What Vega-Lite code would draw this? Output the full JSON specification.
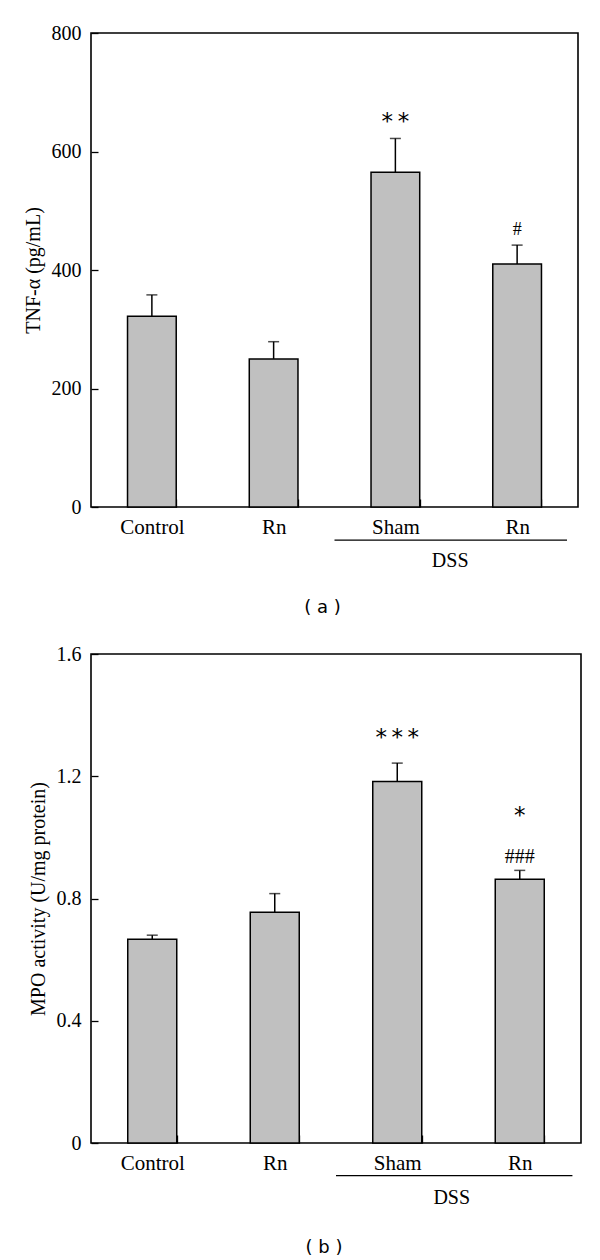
{
  "$schema": "https://vega.github.io/schema/vega-lite/v6.json",
  "background": "white",
  "padding": {"left": 22, "top": 22, "right": 5, "bottom": 5},
  "spacing": 25,
  "config": {
    "view": {"stroke": "black", "strokeWidth": 1.6},
    "font": "Liberation Serif",
    "axis": {
      "labelFont": "Liberation Serif",
      "titleFont": "Liberation Serif",
      "labelColor": "black",
      "titleColor": "black",
      "tickColor": "black",
      "domain": false,
      "grid": false,
      "titleFontWeight": "normal",
      "labelFontSize": 20,
      "titleFontSize": 20,
      "tickWidth": 1.3
    },
    "title": {"font": "DejaVu Sans", "fontSize": 18, "fontWeight": "normal", "color": "black"}
  },
  "datasets": {
    "tnf": [
      {"grp": "Control", "value": 322, "upper": 358},
      {"grp": "Rn", "value": 250, "upper": 279},
      {"grp": "Sham", "value": 565, "upper": 622},
      {"grp": "Rn2", "value": 410, "upper": 442}
    ],
    "tnfAnn": [
      {"grp": "Sham", "label": "*\u2009*", "pos": 650, "kind": "star"},
      {"grp": "Rn2", "label": "#", "pos": 467, "kind": "hash"}
    ],
    "tnfDss": [
      {"start": 2, "end": 3.91, "pos": -56, "tpos": 2.95, "tlab": -91, "label": "DSS"}
    ],
    "mpo": [
      {"grp": "Control", "value": 0.667, "upper": 0.68},
      {"grp": "Rn", "value": 0.755, "upper": 0.816},
      {"grp": "Sham", "value": 1.183, "upper": 1.243},
      {"grp": "Rn2", "value": 0.863, "upper": 0.892}
    ],
    "mpoAnn": [
      {"grp": "Sham", "label": "*\u2009*\u2009*", "pos": 1.324, "kind": "star"},
      {"grp": "Rn2", "label": "*", "pos": 1.07, "kind": "star"},
      {"grp": "Rn2", "label": "###", "pos": 0.937, "kind": "hash"}
    ],
    "mpoDss": [
      {"start": 2, "end": 3.93, "pos": -0.107, "tpos": 2.945, "tlab": -0.18, "label": "DSS"}
    ]
  },
  "vconcat": [
    {
      "width": 487,
      "height": 474,
      "title": {"text": "( a )", "orient": "bottom", "offset": 28, "dx": -12},
      "layer": [
        {
          "encoding": {
            "x": {
              "field": "grp", "type": "nominal", "sort": null,
              "scale": {"paddingInner": 0.6, "paddingOuter": 0.3},
              "axis": {"title": null, "labelAngle": 0, "tickBand": "extent", "tickSize": -8, "labelPadding": 17, "labelFontSize": 21, "labelExpr": "datum.value == 'Rn2' ? 'Rn' : datum.value"}
            }
          },
          "layer": [
            {
              "data": {"name": "tnf"},
              "mark": {"type": "bar", "fill": "#c0c0c0", "stroke": "black", "strokeWidth": 1.5},
              "encoding": {
                "y": {"field": "value", "type": "quantitative", "scale": {"domain": [0, 800], "nice": false},
                  "axis": {"title": "TNF-α (pg/mL)", "values": [0, 200, 400, 600, 800], "tickSize": -7, "labelPadding": 17, "titlePadding": 8}}
              }
            },
            {
              "data": {"name": "tnf"},
              "mark": {"type": "rule", "color": "black", "strokeWidth": 1.5},
              "encoding": {"y": {"field": "value", "type": "quantitative"}, "y2": {"field": "upper"}}
            },
            {
              "data": {"name": "tnf"},
              "mark": {"type": "tick", "orient": "horizontal", "size": 11, "thickness": 1.5, "color": "black"},
              "encoding": {"y": {"field": "upper", "type": "quantitative"}}
            },
            {
              "data": {"name": "tnfAnn"},
              "transform": [{"filter": "datum.kind == 'star'"}],
              "mark": {"type": "text", "font": "DejaVu Sans", "fontSize": 23, "baseline": "middle", "color": "black"},
              "encoding": {"y": {"field": "pos", "type": "quantitative"}, "text": {"field": "label"}}
            },
            {
              "data": {"name": "tnfAnn"},
              "transform": [{"filter": "datum.kind == 'hash'"}],
              "mark": {"type": "text", "font": "Liberation Serif", "fontSize": 18, "baseline": "middle", "color": "black"},
              "encoding": {"y": {"field": "pos", "type": "quantitative"}, "text": {"field": "label"}}
            }
          ]
        },
        {
          "data": {"name": "tnfDss"},
          "layer": [
            {
              "mark": {"type": "rule", "color": "black", "strokeWidth": 1.3},
              "encoding": {
                "x": {"field": "start", "type": "quantitative", "scale": {"domain": [0, 4], "nice": false}, "axis": null},
                "x2": {"field": "end"},
                "y": {"field": "pos", "type": "quantitative"}
              }
            },
            {
              "mark": {"type": "text", "font": "Liberation Serif", "fontSize": 20, "baseline": "middle", "color": "black"},
              "encoding": {
                "x": {"field": "tpos", "type": "quantitative"},
                "y": {"field": "tlab", "type": "quantitative"},
                "text": {"field": "label"}
              }
            }
          ]
        }
      ],
      "resolve": {"scale": {"x": "independent"}}
    },
    {
      "width": 490,
      "height": 489,
      "title": {"text": "( b )", "orient": "bottom", "offset": 31, "dx": -12},
      "layer": [
        {
          "encoding": {
            "x": {
              "field": "grp", "type": "nominal", "sort": null,
              "scale": {"paddingInner": 0.6, "paddingOuter": 0.3},
              "axis": {"title": null, "labelAngle": 0, "tickBand": "extent", "tickSize": -8, "labelPadding": 17, "labelFontSize": 21, "labelExpr": "datum.value == 'Rn2' ? 'Rn' : datum.value"}
            }
          },
          "layer": [
            {
              "data": {"name": "mpo"},
              "mark": {"type": "bar", "fill": "#c0c0c0", "stroke": "black", "strokeWidth": 1.5},
              "encoding": {
                "y": {"field": "value", "type": "quantitative", "scale": {"domain": [0, 1.6], "nice": false},
                  "axis": {"title": "MPO activity (U/mg protein)", "values": [0, 0.4, 0.8, 1.2, 1.6], "labelExpr": "datum.value == 0 ? '0' : format(datum.value, '.1f')", "tickSize": -7, "labelPadding": 17, "titlePadding": 8}}
              }
            },
            {
              "data": {"name": "mpo"},
              "mark": {"type": "rule", "color": "black", "strokeWidth": 1.5},
              "encoding": {"y": {"field": "value", "type": "quantitative"}, "y2": {"field": "upper"}}
            },
            {
              "data": {"name": "mpo"},
              "mark": {"type": "tick", "orient": "horizontal", "size": 11, "thickness": 1.5, "color": "black"},
              "encoding": {"y": {"field": "upper", "type": "quantitative"}}
            },
            {
              "data": {"name": "mpoAnn"},
              "transform": [{"filter": "datum.kind == 'star'"}],
              "mark": {"type": "text", "font": "DejaVu Sans", "fontSize": 23, "baseline": "middle", "color": "black"},
              "encoding": {"y": {"field": "pos", "type": "quantitative"}, "text": {"field": "label"}}
            },
            {
              "data": {"name": "mpoAnn"},
              "transform": [{"filter": "datum.kind == 'hash'"}],
              "mark": {"type": "text", "font": "Liberation Serif", "fontSize": 20, "baseline": "middle", "color": "black"},
              "encoding": {"y": {"field": "pos", "type": "quantitative"}, "text": {"field": "label"}}
            }
          ]
        },
        {
          "data": {"name": "mpoDss"},
          "layer": [
            {
              "mark": {"type": "rule", "color": "black", "strokeWidth": 1.3},
              "encoding": {
                "x": {"field": "start", "type": "quantitative", "scale": {"domain": [0, 4], "nice": false}, "axis": null},
                "x2": {"field": "end"},
                "y": {"field": "pos", "type": "quantitative"}
              }
            },
            {
              "mark": {"type": "text", "font": "Liberation Serif", "fontSize": 20, "baseline": "middle", "color": "black"},
              "encoding": {
                "x": {"field": "tpos", "type": "quantitative"},
                "y": {"field": "tlab", "type": "quantitative"},
                "text": {"field": "label"}
              }
            }
          ]
        }
      ],
      "resolve": {"scale": {"x": "independent"}}
    }
  ]
}
